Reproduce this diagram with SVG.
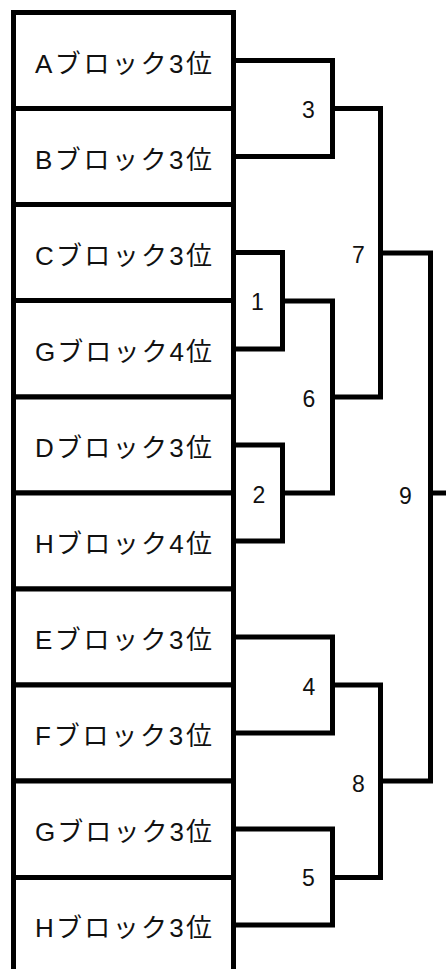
<svg xmlns="http://www.w3.org/2000/svg" width="446" height="969" viewBox="0 0 446 969">
<style>
.cell{fill:#fff;stroke:#000;stroke-width:5}
.lbl{font-family:"Liberation Sans","Noto Sans CJK JP",sans-serif;font-size:26px;fill:#111;text-anchor:middle}
.num{font-family:"Liberation Sans","Noto Sans CJK JP",sans-serif;font-size:23px;fill:#111;text-anchor:middle;dominant-baseline:central}
.ln{fill:none;stroke:#000;stroke-width:5;stroke-linejoin:miter}
</style>
<rect width="446" height="969" fill="#fff"/>
<g id="nodes">
<g id="A3"><rect class="cell" x="13.5" y="12.5" width="220" height="96"/><text class="lbl" x="123.5" y="72.5" textLength="177" lengthAdjust="spacing">Aブロック3位</text></g>
<g id="B3"><rect class="cell" x="13.5" y="108.5" width="220" height="96"/><text class="lbl" x="123.5" y="168.5" textLength="177" lengthAdjust="spacing">Bブロック3位</text></g>
<g id="C3"><rect class="cell" x="13.5" y="204.5" width="220" height="96"/><text class="lbl" x="123.5" y="264.5" textLength="177" lengthAdjust="spacing">Cブロック3位</text></g>
<g id="G4"><rect class="cell" x="13.5" y="300.5" width="220" height="96.5"/><text class="lbl" x="123.5" y="361" textLength="177" lengthAdjust="spacing">Gブロック4位</text></g>
<g id="D3"><rect class="cell" x="13.5" y="397" width="220" height="96"/><text class="lbl" x="123.5" y="457" textLength="177" lengthAdjust="spacing">Dブロック3位</text></g>
<g id="H4"><rect class="cell" x="13.5" y="493" width="220" height="96"/><text class="lbl" x="123.5" y="553" textLength="177" lengthAdjust="spacing">Hブロック4位</text></g>
<g id="E3"><rect class="cell" x="13.5" y="589" width="220" height="96"/><text class="lbl" x="123.5" y="649" textLength="177" lengthAdjust="spacing">Eブロック3位</text></g>
<g id="F3"><rect class="cell" x="13.5" y="685" width="220" height="96"/><text class="lbl" x="123.5" y="745" textLength="177" lengthAdjust="spacing">Fブロック3位</text></g>
<g id="G3"><rect class="cell" x="13.5" y="781" width="220" height="96.5"/><text class="lbl" x="123.5" y="841" textLength="177" lengthAdjust="spacing">Gブロック3位</text></g>
<g id="H3"><rect class="cell" x="13.5" y="877.5" width="220" height="100"/><text class="lbl" x="123.5" y="937" textLength="177" lengthAdjust="spacing">Hブロック3位</text></g>
</g>
<g id="connectors">
<polyline class="ln" points="233.5,60.5 332.5,60.5 332.5,156.5 233.5,156.5"/>
<polyline class="ln" points="233.5,252.5 282.5,252.5 282.5,349 233.5,349"/>
<polyline class="ln" points="233.5,445 282.5,445 282.5,541 233.5,541"/>
<polyline class="ln" points="233.5,637 332.5,637 332.5,733 233.5,733"/>
<polyline class="ln" points="233.5,829 332.5,829 332.5,925 233.5,925"/>
<polyline class="ln" points="282.5,301 332.5,301 332.5,493 282.5,493"/>
<polyline class="ln" points="332.5,108.5 380.5,108.5 380.5,397 332.5,397"/>
<polyline class="ln" points="332.5,685 380.5,685 380.5,877.5 332.5,877.5"/>
<polyline class="ln" points="380.5,253 430.5,253 430.5,781 380.5,781"/>
<line class="ln" x1="430.5" y1="493" x2="446" y2="493"/>
</g>
<g id="match-numbers">
<text class="num" x="308.5" y="110">3</text>
<text class="num" x="257.5" y="302">1</text>
<text class="num" x="259" y="495">2</text>
<text class="num" x="309" y="399">6</text>
<text class="num" x="358.5" y="255">7</text>
<text class="num" x="309" y="687">4</text>
<text class="num" x="308.5" y="878">5</text>
<text class="num" x="358.5" y="784">8</text>
<text class="num" x="405.5" y="496">9</text>
</g>
</svg>
